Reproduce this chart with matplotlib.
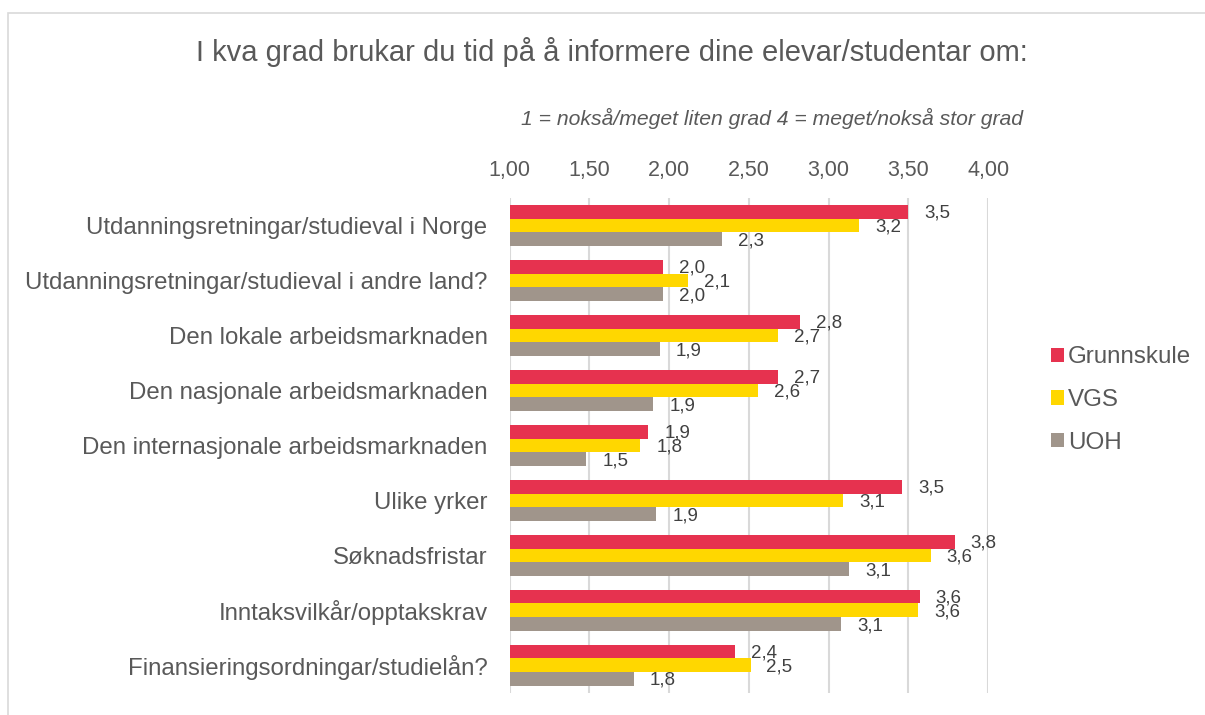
import matplotlib.pyplot as plt
from matplotlib.patches import Rectangle
import numpy as np

plt.rcParams['font.family'] = ['Liberation Sans', 'DejaVu Sans']

# Data
categories = [
    'Utdanningsretningar/studieval i Norge',
    'Utdanningsretningar/studieval i andre land?',
    'Den lokale arbeidsmarknaden',
    'Den nasjonale arbeidsmarknaden',
    'Den internasjonale arbeidsmarknaden',
    'Ulike yrker',
    'Søknadsfristar',
    'Inntaksvilkår/opptakskrav',
    'Finansieringsordningar/studielån?',
]
grunnskule = [3.50, 1.96, 2.82, 2.68, 1.87, 3.46, 3.79, 3.57, 2.41]
vgs = [3.19, 2.12, 2.68, 2.56, 1.82, 3.09, 3.64, 3.56, 2.51]
uoh = [2.33, 1.96, 1.94, 1.90, 1.48, 1.92, 3.13, 3.08, 1.78]
series = [('Grunnskule', grunnskule, '#E6324F'),
          ('VGS', vgs, '#FFD700'),
          ('UOH', uoh, '#A0958B')]
ticks = [1.0, 1.5, 2.0, 2.5, 3.0, 3.5, 4.0]

fig = plt.figure(figsize=(12.05, 7.15), dpi=100)
ax = fig.add_axes([0.423, 0.031, 0.397, 0.692])

# chart border
fig.patches.append(Rectangle((8 / 1205, -0.1), 1.2, 1 - 13 / 715 + 0.1,
                             transform=fig.transFigure, fill=False,
                             edgecolor='#D9D9D9', linewidth=1.2))

y = np.arange(len(categories))
h = 0.25
for i, (name, vals, col) in enumerate(series):
    pos = y + (i - 1) * h
    bars = ax.barh(pos, [v - 1 for v in vals], left=1, height=h, color=col,
                   label=name, zorder=3)
    for b, v in zip(bars, vals):
        ax.annotate(f'{v:.1f}'.replace('.', ','),
                    (v, b.get_y() + h / 2), xytext=(11.5, -1),
                    textcoords='offset points', ha='left', va='center',
                    fontsize=13.5, color='#404040', zorder=4)

ax.set_xlim(1, 4)
ax.set_ylim(len(categories) - 0.5, -0.5)
ax.set_xticks(ticks)
ax.set_xticklabels([f'{t:.2f}'.replace('.', ',') for t in ticks])
ax.xaxis.tick_top()
ax.tick_params(axis='x', length=0, pad=12, labelsize=15.5, labelcolor='#595959')
ax.set_yticks(y)
ax.set_yticklabels(categories)
ax.tick_params(axis='y', length=0, pad=16, labelsize=17.3, labelcolor='#595959')
ax.grid(axis='x', color='#D9D9D9', linewidth=1.5, zorder=0)
for s in ax.spines.values():
    s.set_visible(False)

fig.text(612 / 1205, 1 - 52 / 715,
         'I kva grad brukar du tid på å informere dine elevar/studentar om:',
         ha='center', va='center', fontsize=21, color='#595959')
fig.text(772 / 1205, 1 - 118 / 715,
         '1 = nokså/meget liten grad 4 = meget/nokså stor grad',
         ha='center', va='center', fontsize=15.2, style='italic', color='#595959')

leg = fig.legend(loc='center left', bbox_to_anchor=(1029 / 1205, 1 - 400 / 715),
                 frameon=False, fontsize=17.4, handlelength=0.55, handleheight=0.55,
                 handletextpad=0.15, labelspacing=0.85, labelcolor='#595959')

plt.savefig('out.png', dpi=100)
